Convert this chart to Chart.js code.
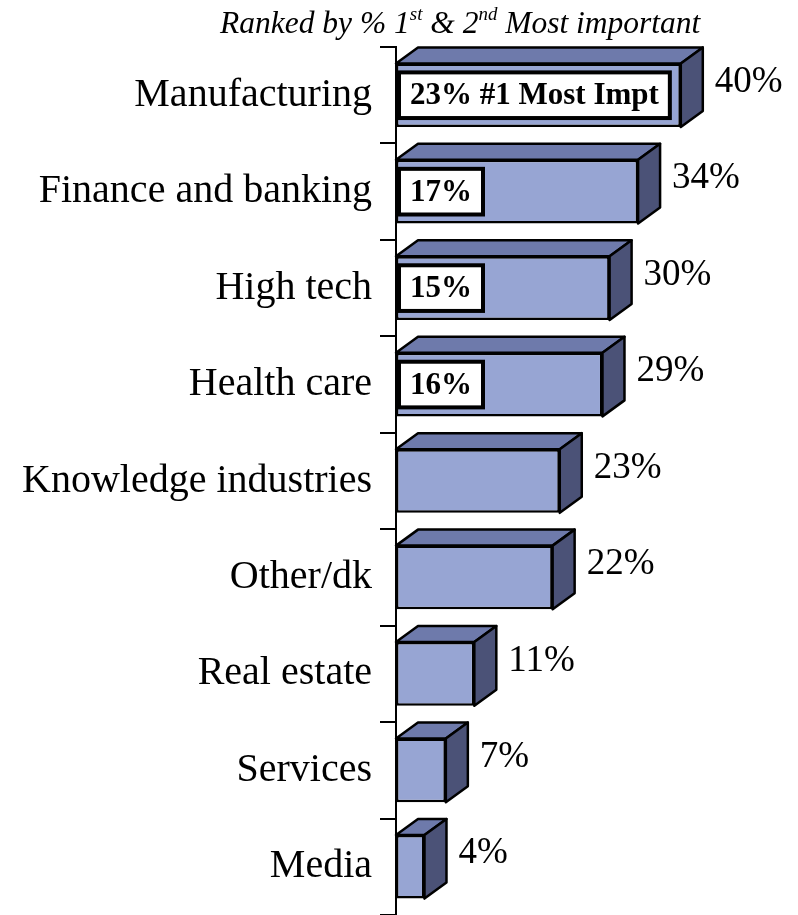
<!DOCTYPE html>
<html>
<head>
<meta charset="utf-8">
<title>Ranked by % 1st & 2nd Most important</title>
<style>
    body { margin: 0; background: #fff; }
    #wrap { position: relative; width: 798px; height: 915px; }
    #title {
        position: absolute; left: 220px; top: 6px;
        font: italic 31.5px "Liberation Serif", "Times New Roman", serif;
        line-height: 34px;
        color: #000; white-space: nowrap;
    }
    #title sup { font-size: 0.6em; vertical-align: 0.7em; line-height: 0; }
</style>
</head>
<body>
<div id="wrap">
    <canvas id="myChart" width="798" height="915"></canvas>
    <div id="title">Ranked by % 1<sup>st</sup> &amp; 2<sup>nd</sup> Most important</div>
</div>

<script src="https://cdn.jsdelivr.net/npm/chart.js"></script>
<script>
    const categories = ['Manufacturing', 'Finance and banking', 'High tech', 'Health care',
        'Knowledge industries', 'Other/dk', 'Real estate', 'Services', 'Media'];
    // % 1st & 2nd most important
    const totalValues = [40, 34, 30, 29, 23, 22, 11, 7, 4];
    // % #1 most important (only shown for the top four)
    const firstValues = [23, 17, 15, 16, null, null, null, null, null];
    const firstSuffix = ' #1 Most Impt';

    const frontColor = '#97a5d3';
    const topColor = '#6e7aab';
    const sideColor = '#4b5277';
    const depthX = 22;
    const depthY = 16;

    // draws the top and right faces so the bars look like boxes
    const boxFaces = {
        id: 'boxFaces',
        beforeDatasetsDraw(chart) {
            const ctx = chart.ctx;
            chart.getDatasetMeta(0).data.forEach(bar => {
                const { x, y, base, height } = bar.getProps(['x', 'y', 'base', 'height'], true);
                const top = y - height / 2;
                const bot = y + height / 2;
                ctx.save();
                ctx.lineWidth = 2.5;
                ctx.lineJoin = 'round';
                ctx.strokeStyle = '#000';

                ctx.beginPath();
                ctx.moveTo(base, top);
                ctx.lineTo(base + depthX, top - depthY);
                ctx.lineTo(x + depthX, top - depthY);
                ctx.lineTo(x, top);
                ctx.closePath();
                ctx.fillStyle = topColor;
                ctx.fill();
                ctx.stroke();

                ctx.beginPath();
                ctx.moveTo(x, top);
                ctx.lineTo(x + depthX, top - depthY);
                ctx.lineTo(x + depthX, bot - depthY);
                ctx.lineTo(x, bot);
                ctx.closePath();
                ctx.fillStyle = sideColor;
                ctx.fill();
                ctx.stroke();
                ctx.restore();
            });
        },
        afterDatasetsDraw(chart) {
            const ctx = chart.ctx;
            chart.getDatasetMeta(0).data.forEach((bar, i) => {
                const { x, y, base, height } = bar.getProps(['x', 'y', 'base', 'height'], true);
                const top = y - height / 2;
                ctx.save();

                // value label beside the bar
                ctx.font = '37px "Liberation Serif", "Times New Roman", serif';
                ctx.fillStyle = '#000';
                ctx.textAlign = 'left';
                ctx.textBaseline = 'middle';
                ctx.fillText(totalValues[i] + '%', x + depthX + 12, y - 13);

                // boxed #1 value inside the bar
                if (firstValues[i] !== null) {
                    const txt = firstValues[i] + '%' + (i === 0 ? firstSuffix : '');
                    ctx.font = 'bold 31px "Liberation Serif", "Times New Roman", serif';
                    const w = ctx.measureText(txt).width + 22;
                    const bx = base + 3;
                    const by = top + 9;
                    const bh = height - 18;
                    ctx.fillStyle = '#fff';
                    ctx.fillRect(bx, by, w, bh);
                    ctx.lineWidth = 4;
                    ctx.strokeStyle = '#000';
                    ctx.strokeRect(bx, by, w, bh);
                    ctx.fillStyle = '#000';
                    ctx.fillText(txt, bx + 11, by + bh / 2 + 1);
                }
                ctx.restore();
            });
        }
    };

    const ctx = document.getElementById('myChart');

    new Chart(ctx, {
        type: 'bar',
        data: {
            labels: categories,
            datasets: [{
                data: totalValues,
                backgroundColor: frontColor,
                borderColor: '#000',
                borderWidth: 2.5,
                borderSkipped: false,
                categoryPercentage: 1,
                barPercentage: 0.66
            }]
        },
        plugins: [boxFaces],
        options: {
            indexAxis: 'y',
            responsive: false,
            animation: false,
            devicePixelRatio: 1,
            layout: { padding: { top: 47, right: 46, bottom: 0, left: 0 } },
            plugins: {
                legend: { display: false },
                tooltip: { enabled: false }
            },
            scales: {
                x: { display: false, min: 0, max: 50 },
                y: {
                    afterFit(scale) {
                        scale.width = 396;
                        scale.paddingTop = 0;
                        scale.paddingBottom = 0;
                    },
                    border: { display: true, color: '#000', width: 2 },
                    grid: {
                        display: true,
                        offset: true,
                        drawOnChartArea: false,
                        drawTicks: true,
                        tickLength: 16,
                        color: '#000',
                        lineWidth: 2
                    },
                    ticks: {
                        color: '#000',
                        padding: 8,
                        font: { family: '"Liberation Serif", "Times New Roman", serif', size: 40 }
                    }
                }
            }
        }
    });
</script>
</body>
</html>
